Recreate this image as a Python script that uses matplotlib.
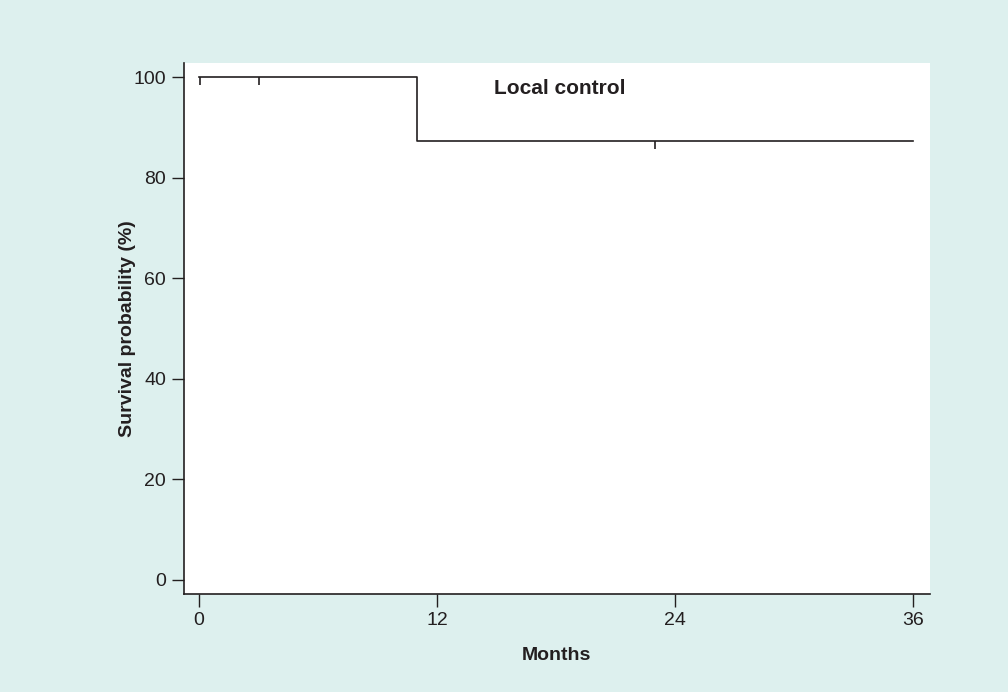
import matplotlib
matplotlib.use("Agg")
import matplotlib.pyplot as plt
import numpy as np

# Kaplan-Meier step data
event_times = [0, 11.0, 36]
survival = [100, 87.3, 87.3]
censor_times = [0.05, 3.0, 23.0]
censor_surv = [100, 100, 87.3]

x_ticks = [0, 12, 24, 36]
y_ticks = [0, 20, 40, 60, 80, 100]

bg = "#ddf0ee"
ink = "#231f20"

plt.rcParams["font.family"] = ["Liberation Sans", "DejaVu Sans"]

fig = plt.figure(figsize=(10.08, 6.92), dpi=100, facecolor=bg)
ax = fig.add_axes([0.1825, 0.1416, 0.740, 0.7674])
ax.set_facecolor("white")

ax.step(event_times, survival, where="post", color=ink, linewidth=1.2)
ax.vlines(censor_times, np.array(censor_surv) - 1.6, censor_surv, color=ink, linewidth=1.2)

ax.text(14.9, 97.8, "Local control", fontsize=15, fontweight="bold", color=ink,
        va="center", ha="left")

ax.set_xlim(-0.76, 36.86)
ax.set_ylim(-2.8, 102.8)
ax.set_xticks(x_ticks)
ax.set_yticks(y_ticks)
ax.tick_params(direction="out", length=9, width=1, colors=ink, labelsize=14, pad=4)

for s in ["top", "right"]:
    ax.spines[s].set_visible(False)
for s in ["left", "bottom"]:
    ax.spines[s].set_color(ink)
    ax.spines[s].set_linewidth(1.2)

ax.set_xlabel("Months", fontsize=14, fontweight="bold", color=ink, labelpad=13)
ax.set_ylabel("Survival probability (%)", fontsize=14, fontweight="bold", color=ink, labelpad=-2)

fig.savefig("out.png", dpi=100, facecolor=bg)
